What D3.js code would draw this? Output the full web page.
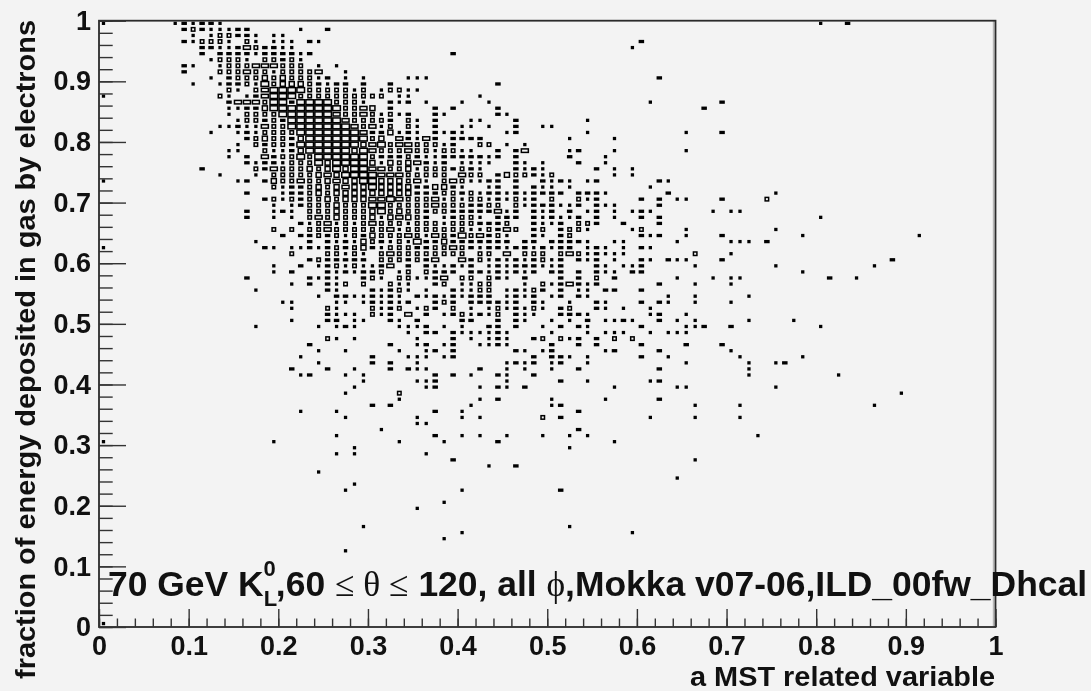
<!DOCTYPE html>
<html>
<head>
<meta charset="utf-8">
<script src="https://cdn.jsdelivr.net/npm/d3@7"></script>
<style>
  html, body { margin: 0; background: #f3f3f3; overflow: hidden; }
  svg { display: block; filter: blur(0.4px); }
  text { font-family: "Liberation Sans", Arial, sans-serif; font-weight: bold; fill: #111; }
</style>
</head>
<body>
<script>
// Global variable
const w = 1091;
const h = 691;

// 2D histogram, 100 x 100 bins. One string per row, top row first, bins grouped by ten.
// "." is an empty bin, a digit is the box class of the bin (1 = smallest, 6 = largest)
const rowsTop = [
  "1.......12 1221 . . . . . . 1..2",
  ".........2 3211122 ..1..2",
  ". 1.133221.1 1",
  ".........2 13331.31.1 11.21 . . . 2",
  ". .221124322 11 . . .........1",
  ". .2.2222122 2212 .........2",
  ". ..13331.33 231",
  ".........2 1..1333444 333.1.1",
  ".........2 ...3334331 33334..1",
  ". ..1.233353 533312.1.1 ....111 . . ..2",
  ". 1..1223163 55532122.2 ..2 ....2",
  ". ....31.346 6663333313 .13311",
  "1 ...31.1246 6633333333 33.11 ..1",
  ". ....244436 6266663331 ..212.1 1..1 . .1.......2",
  ". ....112256 6666666334 5.2....2.2 ....2 . .......2",
  ". ....1.3333 6666664334 31312..21 ....21",
  ". .....13323 2666666433 332.31.2 .11...2 ....1",
  ". ...1121143 3666666643 413.31.2 11.1..2..1 1",
  ". ..1..12133 3366666664 225121.212 1....12 ....1 .....1...2",
  ". ......2353 3256666666 35.42142.2 222 ..1....1",
  ". .....1.323 3266666665 4634433312 ..33.1.1",
  ". ....11..31 1256666656 4333433133 11..2.24 ..12...1 .....1",
  ". ....1.2.42 3363666666 3222321122 22212.2 ..2...1",
  ". ......2122 1333656666 515354212. 1111..21.1 ...2..1",
  ". .2.....324 3335356566 4433513332 321...2121 .....2.1.1",
  ". ...1...1.3 3333545666 644433333. 433.253321 3......1.1",
  "1 .....12.25 3343354556 6555341.34 31122.2..2 121.12 ..21",
  ". .........3 1223535455 6555522552 1..12.2.21 1.1 .1",
  ". ......2 1223535555 5555522233 2312212122 22.2221 ...2 .....1",
  ". ........23 1323353555 4464333413 133121312. 3..312 2.2.11...2 ....3",
  ". .........1 .123335333 6633333433 32233.3122 2112.211 ..2",
  ". ......2..1 21.3335333 5635332332 2222412.21 2.2.12.1.1 21......1 11",
  ". ......2..1 .1.3435333 5154532.12 331.222.21 2112.2.1 2.2 . 1"
];
const rowsMid = [
  ". . ..21341313 4333133313 332223..21 12.332..2 ..2",
  ". .........3 .3.3343333 3341333333 3113243.23 .2331....1 3....1 .....1",
  ". . 2.22323132 5333431432 634231..21 .23 212..1...2 ........1 . .1",
  ". .......1 ...2.21215 3213162252 222222.22 22221..11 ....1 111.2",
  "1 ........21 .112123235 2133322334 3212212212 122.121.1 21",
  ". . .3...33131 .343333333 3.33.4.333 .34312111 ......3 1",
  ". . ...2322222 .3332324 4231212123 12.212.1 21.211...2 . ........2",
  ". .........1 ..2.123131 124.2.2112 12.1212221 12...21.11 2.....1 .....1 ......1",
  ". .........1 .2...21212 23.13.3222 .22121212. 22.2.211.2 2 ........1",
  ". ......2 ...2121..2 31.331124. 33.321.2 .2.2.3.2 ....1...1 11 .2..1",
  ". . .1.2.213.3 ..311..23. 1133...1.3 124212 ..2...1 1",
  ". .......1 .....21 21231.1..2 1133.12132 .2.11.22 2",
  ". . ....1.2211 2121.21212 1222.1212. 12.21 ...1..1 ..1",
  ". . 11....11.1 21212..232 .222212.21 ..1..21 2.21..1 1",
  ". . .1...31 3123.132.3 .1.1312131 .23..21.1 .1",
  ". . .....2111 312.4.2.12 31213.211 .2221 .12..1",
  ". . .1...22.11 ..21.2 22..2.21 1.1.2.1121 ..2.1.1 ..1....1",
  ". .......1 ....1.121 ...1112.1 1..22.2..1 .2.21 2....112 2 1",
  ". . . ....1.22.2 111121 1...1.111 .1.111",
  ". . .....31.1 .....1...2 .1.121..23 .312.2.3.3",
  ". . ...2 ..2..12.12 ..1121 2..2.2 2....2...2",
  ". . ....1..1 ...1..12.2 ......21.1 2.....12 ..2 1",
  ". . ..1 2...111.12 ........2 221.1 2..1 .1......1",
  ". . ....1 2.2..1 .....1212 12..1 .....1 ..1..12",
  ". . .2...2..1 ..2.211 ..2..1.1 1..2 ..2 ..1",
  ". . ..12...1.1 .......2.2 .1..21..2 . . ..1 ..1",
  ". . .........1 .....112 .....1 .2..1 .12",
  ". . ........1 ......12 ..1.21.2 .......1 ....11 .....1",
  ". . .......1 ...3 . . . . .........1",
  ". . . ...1 ..1.2 1.....1 ..2",
  ". . . 2.2 .1 12 ......1 .1 ......1",
  ". . ..1...1 .......2 1 ...2",
  ". . .......1 .....1 1.1......3 .2 .1....1 .1"
];
const rowsLow = [
  ". . . .....11",
  ". . . .1 . ...2",
  ". . ......1 .......2 1.1..1...1 ..1.1 . ...1",
  "1 .........1 . ...1....1 ....2 .......1",
  ". . ........1 . . ..1",
  ". . ......1.1 ......1",
  ". . . .........2 . . ......1",
  ". . . . ...1..2",
  ". . ....1",
  ". . . . . . ....1",
  ". . ........1",
  ". . .......1 . 1 .2",
  "",
  ". . . ........1",
  ". . . .....1",
  "", "",
  ". . .........1 . . ..1",
  ". . . . 1 .........1",
  ". . . ........1",
  "",
  ". . .......1",
  "", "", "", "", "", "", "", "", "", "", "",
  "1"
];

const xMajor = [0, 0.1, 0.2, 0.3, 0.4, 0.5, 0.6, 0.7, 0.8, 0.9, 1];
const yMajor = [0, 0.1, 0.2, 0.3, 0.4, 0.5, 0.6, 0.7, 0.8, 0.9, 1];
const boxClasses = ["1", "2", "3", "4", "5", "6"];
const xTitle = "a MST related variable";
const yTitle = "fraction of energy deposited in gas by electrons";

// Turn the row strings into one record per filled bin
const rows = rowsTop.concat(rowsMid, rowsLow);
let dataset = [];
rows.forEach((row, k) => {
    row.split(" ").forEach((group, g) => {
        Array.from(group).forEach((c, n) => {
            if (c !== ".") {
                dataset.push({ x: (g * 10 + n + 0.5) / 100, y: (99 - k + 0.5) / 100, level: c });
            }
        });
    });
});

const x = d3.scaleLinear().domain([0, 1]).range([99, 995.5]);
const y = d3.scaleLinear().domain([0, 1]).range([627, 20.7]);

// Box outline size of each class, the picture is snapped to whole pixels so it jumps
const boxW = d3.scaleOrdinal().domain(boxClasses).range([1.8, 4, 3.5, 7, 5, 7.6]);
const boxH = d3.scaleOrdinal().domain(boxClasses).range([1.8, 1.8, 3.5, 3.5, 4.7, 4.8]);

//Create SVG element
let svg = d3.select("body")
            .append("svg")
                .attr("width", w)
                .attr("height", h);

// Draw the bins
svg.selectAll("rect.bin")
    .data(dataset)
    .enter()
    .append("rect")
    .attr("class", "bin")
    .attr("x", (d) => x(d.x) - boxW(d.level) / 2)
    .attr("y", (d) => y(d.y) - boxH(d.level) / 2 - 0.4)
    .attr("width", (d) => boxW(d.level))
    .attr("height", (d) => boxH(d.level))
    .attr("fill", (d) => (d.level < "3" ? "#000" : "none"))
    .attr("stroke", "#000")
    .attr("stroke-width", 1.5);

// Frame
svg.append("line").attr("x1", 993.6).attr("x2", 993.6).attr("y1", 21).attr("y2", 626)
    .attr("stroke", "#b5b5b5").attr("stroke-width", 1.6);
svg.append("rect")
    .attr("x", x(0)).attr("y", y(1))
    .attr("width", x(1) - x(0)).attr("height", y(0) - y(1))
    .attr("fill", "none").attr("stroke", "#2a2a2a").attr("stroke-width", 1.8);

// Minor ticks
svg.append("g")
    .attr("transform", "translate(0, " + y(0) + ")")
    .call(d3.axisBottom(x).tickValues(d3.range(0, 1.001, 0.02)).tickSize(-8.5).tickFormat(""))
    .call((g) => g.select(".domain").remove())
    .selectAll("line").attr("stroke", "#333").attr("stroke-width", 1.4);
svg.append("g")
    .attr("transform", "translate(" + x(0) + ", 0)")
    .call(d3.axisLeft(y).tickValues(d3.range(0, 1.001, 0.02)).tickSize(-13.7).tickFormat(""))
    .call((g) => g.select(".domain").remove())
    .selectAll("line").attr("stroke", "#333").attr("stroke-width", 1.4);

// Major ticks and their labels
let xAxis = svg.append("g")
    .attr("transform", "translate(0, " + y(0) + ")")
    .call(d3.axisBottom(x).tickValues(xMajor).tickSize(-18).tickPadding(9).tickFormat((d) => d));
xAxis.select(".domain").remove();
xAxis.selectAll("line").attr("stroke", "#333").attr("stroke-width", 1.4);
xAxis.selectAll("text").attr("font-size", 27).attr("font-family", null);

let yAxis = svg.append("g")
    .attr("transform", "translate(" + x(0) + ", 0)")
    .call(d3.axisLeft(y).tickValues(yMajor).tickSize(-27).tickPadding(8).tickFormat((d) => d));
yAxis.select(".domain").remove();
yAxis.selectAll("line").attr("stroke", "#333").attr("stroke-width", 1.4);
yAxis.selectAll("text").attr("font-size", 27).attr("font-family", null);

// Axis titles
svg.append("text")
    .attr("x", 995).attr("y", 686)
    .attr("text-anchor", "end")
    .attr("font-size", 27)
    .attr("textLength", 305)
    .attr("lengthAdjust", "spacingAndGlyphs")
    .text(xTitle);

svg.append("text")
    .attr("transform", "translate(35, 679) rotate(-90)")
    .attr("font-size", 27)
    .attr("textLength", 659)
    .attr("lengthAdjust", "spacingAndGlyphs")
    .text(yTitle);

// Annotation, the greek letters and the signs are thin serif like ROOT's symbol font
let note = svg.append("text")
    .attr("x", 108).attr("y", 596)
    .attr("font-size", 35.45);
const serif = "'Liberation Serif', serif";
note.append("tspan").text("70 GeV K");
note.append("tspan").attr("font-size", 22).attr("dy", 10).text("L");
note.append("tspan").attr("font-size", 22).attr("dx", -13.5).attr("dy", -30).text("0");
note.append("tspan").attr("dy", 20).text(",60 ");
note.append("tspan").attr("font-family", serif).attr("font-weight", "normal").text("\u2264 \u03b8 \u2264");
note.append("tspan").text(" 120, all ");
note.append("tspan").attr("font-family", serif).attr("font-weight", "normal").text("\u03d5");
note.append("tspan").text(",Mokka v07-06,ILD_00fw_Dhcal");
</script>
</body>
</html>
